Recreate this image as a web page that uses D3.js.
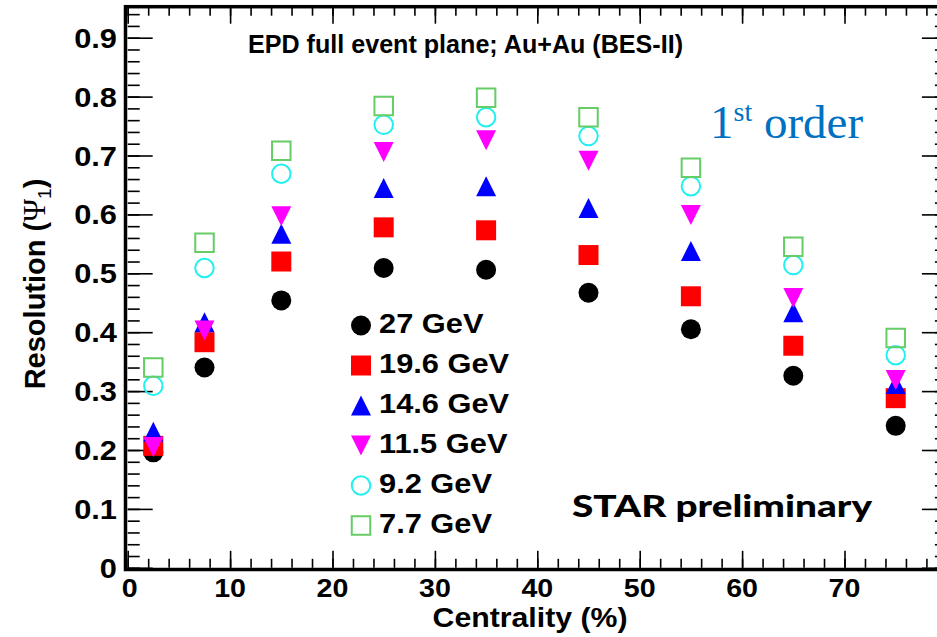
<!DOCTYPE html>
<html><head><meta charset="utf-8">
<script src="https://cdn.jsdelivr.net/npm/d3@7"></script>
<style>body{margin:0;background:#fff} svg{display:block}</style>
</head><body><svg id="c" width="937" height="637"></svg>
<script>
// ---- data ----
const centrality = [2.5, 7.5, 15, 25, 35, 45, 55, 65, 75];
const energies = ["27 GeV", "19.6 GeV", "14.6 GeV", "11.5 GeV", "9.2 GeV", "7.7 GeV"];
const res27 = [0.196, 0.340, 0.454, 0.509, 0.506, 0.467, 0.405, 0.326, 0.241];
const res19 = [0.207, 0.383, 0.520, 0.578, 0.573, 0.531, 0.461, 0.377, 0.288];
const res14 = [0.231, 0.417, 0.567, 0.645, 0.648, 0.611, 0.538, 0.434, 0.312];
const res11 = [0.205, 0.403, 0.597, 0.706, 0.726, 0.691, 0.599, 0.458, 0.319];
const res9  = [0.309, 0.509, 0.669, 0.752, 0.765, 0.733, 0.648, 0.514, 0.361];
const res7  = [0.340, 0.552, 0.708, 0.784, 0.798, 0.765, 0.679, 0.545, 0.390];
const xTickValues = [0, 10, 20, 30, 40, 50, 60, 70];
const xTickLabels = ["0", "10", "20", "30", "40", "50", "60", "70"];
const yTickValues = [0, 0.1, 0.2, 0.3, 0.4, 0.5, 0.6, 0.7, 0.8, 0.9];
const yTickLabels = ["0", "0.1", "0.2", "0.3", "0.4", "0.5", "0.6", "0.7", "0.8", "0.9"];
const titleText = "EPD full event plane; Au+Au (BES-II)";
const xTitle = "Centrality (%)";
const prelimText = "STAR preliminary";

const seriesList = [
  {name: energies[0], values: res27, shape: "circle", fill: "#000000", stroke: "none"},
  {name: energies[1], values: res19, shape: "square", fill: "#ff0000", stroke: "none"},
  {name: energies[2], values: res14, shape: "triUp", fill: "#0000ff", stroke: "none"},
  {name: energies[3], values: res11, shape: "triDown", fill: "#ff00ff", stroke: "none"},
  {name: energies[4], values: res9,  shape: "circle", fill: "none", stroke: "#22f0f0"},
  {name: energies[5], values: res7,  shape: "square", fill: "none", stroke: "#66cc66"}
];

// ---- layout ----
const svg = d3.select("#c");
const x = d3.scaleLinear().domain([0, 80]).range([127.7, 946.9]);
const y = d3.scaleLinear().domain([0, 0.95]).range([567.8, 8.25]);
const FONT = "'Liberation Sans', Arial, sans-serif";
const WIDEN = 1.1;

function widen(sel, k) {
  sel.each(function () {
    const w = this.getComputedTextLength();
    d3.select(this).attr("textLength", w * k).attr("lengthAdjust", "spacingAndGlyphs");
  });
}

function markerPath(shape, s) {
  const h = s / 2;
  if (shape === "circle") return `M${h},0A${h},${h} 0 1,1 ${-h},0A${h},${h} 0 1,1 ${h},0Z`;
  if (shape === "square") return `M${-h},${-h}H${h}V${h}H${-h}Z`;
  if (shape === "triUp") return `M0,${-h}L${h},${h}L${-h},${h}Z`;
  if (shape === "triDown") return `M0,${h}L${h},${-h}L${-h},${-h}Z`;
}

// ---- ticks (inward) ----
const xMinor = d3.range(0, 81, 2);
const yMinor = d3.range(0, 0.951, 0.02);

function axisTicks(axis, tr) {
  const g = svg.append("g").attr("transform", tr).call(axis);
  g.select(".domain").remove();
  g.selectAll("text").remove();
  g.selectAll("line").attr("stroke", "#000").attr("stroke-width", 1.6);
}
axisTicks(d3.axisBottom(x).tickValues(xTickValues).tickSize(-17), `translate(0,${y(0)})`);
axisTicks(d3.axisBottom(x).tickValues(xMinor).tickSize(-9), `translate(0,${y(0)})`);
axisTicks(d3.axisTop(x).tickValues(xTickValues).tickSize(-17), `translate(0,6.7)`);
axisTicks(d3.axisTop(x).tickValues(xMinor).tickSize(-9), `translate(0,6.7)`);
axisTicks(d3.axisLeft(y).tickValues(yTickValues).tickSize(-25), `translate(${x(0)},0)`);
axisTicks(d3.axisLeft(y).tickValues(yMinor).tickSize(-12), `translate(${x(0)},0)`);
axisTicks(d3.axisRight(y).tickValues(yTickValues).tickSize(-25), `translate(${x(80)},0)`);
axisTicks(d3.axisRight(y).tickValues(yMinor).tickSize(-12), `translate(${x(80)},0)`);

// ---- frame ----
svg.append("rect")
  .attr("x", 125.5).attr("y", 6.7)
  .attr("width", 946.9 - 125.5).attr("height", 569.5 - 6.7)
  .attr("fill", "none").attr("stroke", "#000").attr("stroke-width", 3.5);

// ---- tick labels ----
svg.append("g").selectAll("text").data(yTickValues).join("text")
  .attr("x", 117).attr("y", d => y(d) + 10)
  .attr("text-anchor", "end")
  .attr("font-family", FONT).attr("font-weight", "bold").attr("font-size", 28)
  .text((d, i) => yTickLabels[i])
  .call(widen, WIDEN);

svg.append("g").selectAll("text").data(xTickValues).join("text")
  .attr("x", d => x(d) + (d === 0 ? 2 : 0)).attr("y", 597)
  .attr("text-anchor", "middle")
  .attr("font-family", FONT).attr("font-weight", "bold").attr("font-size", 26)
  .text((d, i) => xTickLabels[i])
  .call(widen, WIDEN);

// ---- axis titles ----
svg.append("text")
  .attr("x", 530).attr("y", 627)
  .attr("text-anchor", "middle")
  .attr("font-family", FONT).attr("font-weight", "bold").attr("font-size", 28)
  .text(xTitle)
  .call(widen, 1.08);

const yl = svg.append("text")
  .attr("transform", "translate(45,284) rotate(-90)")
  .attr("text-anchor", "middle")
  .attr("font-family", FONT).attr("font-weight", "bold").attr("font-size", 29);
yl.append("tspan").text("Resolution (");
yl.append("tspan").attr("font-family", "'Liberation Serif', 'DejaVu Serif', serif").attr("font-weight", "normal").attr("font-size", 31).text("Ψ");
yl.append("tspan").attr("font-size", 19).attr("dy", 6).attr("font-weight", "normal").text("1");
yl.append("tspan").attr("dy", -6).text(")");

// ---- title ----
svg.append("text")
  .attr("x", 248).attr("y", 53)
  .attr("font-family", FONT).attr("font-weight", "bold").attr("font-size", 26)
  .attr("textLength", 435).attr("lengthAdjust", "spacingAndGlyphs")
  .text(titleText);

// ---- 1st order ----
const ord = svg.append("text")
  .attr("x", 710).attr("y", 138)
  .attr("font-family", "'Liberation Serif', 'Times New Roman', serif")
  .attr("font-size", 47).attr("fill", "#0070c0");
ord.append("tspan").text("1");
ord.append("tspan").attr("font-size", 28).attr("dy", -17).text("st");
ord.append("tspan").attr("dy", 17).text(" order");

// ---- STAR preliminary ----
svg.append("text")
  .attr("x", 572).attr("y", 517)
  .attr("font-family", "Lato, 'Open Sans', sans-serif").attr("font-weight", "900").attr("font-size", 31)
  .attr("textLength", 300).attr("lengthAdjust", "spacingAndGlyphs")
  .text(prelimText);

// ---- data points ----
const ptsG = svg.append("g");
seriesList.forEach(s => {
  ptsG.append("g").selectAll("path").data(s.values).join("path")
    .attr("transform", (d, i) => `translate(${x(centrality[i])},${y(d)})`)
    .attr("d", markerPath(s.shape, s.fill === "none" ? 18.5 : 20))
    .attr("fill", s.fill)
    .attr("stroke", s.stroke)
    .attr("stroke-width", s.fill === "none" ? 2 : 0);
});

// ---- legend ----
const leg = svg.append("g");
seriesList.forEach((s, i) => {
  const by = 333 + i * 40;
  leg.append("path")
    .attr("transform", `translate(361,${by - 7.5})`)
    .attr("d", markerPath(s.shape, s.fill === "none" ? 18.5 : 20))
    .attr("fill", s.fill).attr("stroke", s.stroke)
    .attr("stroke-width", s.fill === "none" ? 2 : 0);
  leg.append("text")
    .attr("x", 379).attr("y", by)
    .attr("font-family", FONT).attr("font-weight", "bold").attr("font-size", 28)
    .text(s.name)
    .call(widen, WIDEN);
});
</script></body></html>
